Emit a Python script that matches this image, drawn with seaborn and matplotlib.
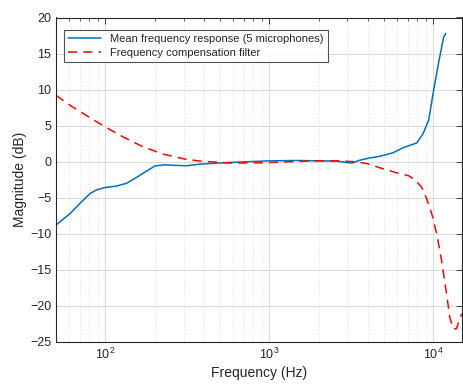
import numpy as np
import pandas as pd
import matplotlib
matplotlib.use("Agg")
import matplotlib.pyplot as plt
import seaborn as sns
from matplotlib.ticker import LogLocator, NullFormatter, FixedLocator

sns.set_style("white")
plt.rcParams['font.family'] = ['Liberation Sans', 'DejaVu Sans']

mean_freq = [50, 61, 70, 81, 89, 100, 117, 135, 155, 179, 201, 231, 273, 313, 378,
             577, 988, 1470, 2570, 2950, 3200, 3570, 4100, 4710, 5690, 6620, 7220,
             7960, 8690, 9400, 10000, 10770, 11600, 11950]
mean_db = [-8.8, -7.2, -5.8, -4.4, -3.9, -3.6, -3.4, -3.0, -2.2, -1.3, -0.6, -0.45,
           -0.53, -0.58, -0.35, -0.12, 0.1, 0.15, 0.07, -0.12, -0.2, 0.2, 0.5, 0.72,
           1.22, 1.97, 2.25, 2.6, 3.9, 5.76, 9.5, 13.6, 17.3, 17.8]

comp_freq = [50, 61, 73, 100, 129, 170, 225, 306, 378, 577, 921, 1850, 2670, 3370,
             4000, 4710, 5970, 7060, 7730, 8480, 9120, 9850, 10560, 11250, 12070,
             12630, 13240, 13870, 14560, 15000]
comp_db = [9.2, 7.8, 6.7, 4.8, 3.4, 2.05, 1.04, 0.35, 0.07, -0.2, -0.17, 0.1, 0.1,
           -0.03, -0.3, -0.85, -1.55, -1.95, -2.5, -3.5, -5.1, -7.4, -10.2, -13.7,
           -18.3, -21.6, -23.2, -23.2, -21.8, -21.1]

labels = ["Mean frequency response (5 microphones)", "Frequency compensation filter"]
yticks = [-25, -20, -15, -10, -5, 0, 5, 10, 15, 20]

df_mean = pd.DataFrame({"Frequency": mean_freq, "Magnitude": mean_db})
df_comp = pd.DataFrame({"Frequency": comp_freq, "Magnitude": comp_db})

fig = plt.figure(figsize=(4.64, 3.84), dpi=100)
ax = fig.add_axes([56/464, 1-341.7/384, (462-56)/464, (341.7-17.5)/384])

sns.lineplot(data=df_mean, x="Frequency", y="Magnitude", ax=ax, color="#0072BD",
             lw=1.1, label=labels[0], sort=False)
sns.lineplot(data=df_comp, x="Frequency", y="Magnitude", ax=ax, color="#FF0000",
             lw=1.1, ls=(0, (6, 4)), label=labels[1], sort=False)

ax.set_xscale("log")
ax.set_xlim(50, 15000)
ax.set_ylim(-25, 20)
ax.yaxis.set_major_locator(FixedLocator(yticks))
ax.xaxis.set_major_locator(LogLocator(base=10, numticks=10))
ax.xaxis.set_minor_locator(LogLocator(base=10, subs=np.arange(2, 10), numticks=20))
ax.xaxis.set_minor_formatter(NullFormatter())

ax.grid(True, which="major", color="#dcdcdc", lw=0.8)
ax.grid(True, which="minor", axis="x", color="#d0d0d0", lw=0.6, ls=(0, (1, 2.5)))
ax.set_axisbelow(True)

for s in ax.spines.values():
    s.set_color("#262626")
    s.set_linewidth(0.8)
ax.tick_params(which="both", direction="in", top=True, right=True, colors="#262626",
               labelsize=9)
ax.tick_params(which="major", length=4, width=0.6)
ax.tick_params(which="minor", length=2, width=0.5)
for lab in ax.get_xticklabels() + ax.get_yticklabels():
    lab.set_color("#262626")

ax.set_xlabel("Frequency (Hz)", fontsize=10, color="#262626", labelpad=3)
ax.set_ylabel("Magnitude (dB)", fontsize=10, color="#262626", labelpad=2)

leg = ax.legend(loc="upper left", bbox_to_anchor=(0.02, 0.96), fontsize=8,
                frameon=True, fancybox=False, edgecolor="#262626",
                borderpad=0.35, handlelength=3.0, labelspacing=0.3, borderaxespad=0)
leg.get_frame().set_linewidth(0.8)

fig.savefig("out.png", dpi=100)
